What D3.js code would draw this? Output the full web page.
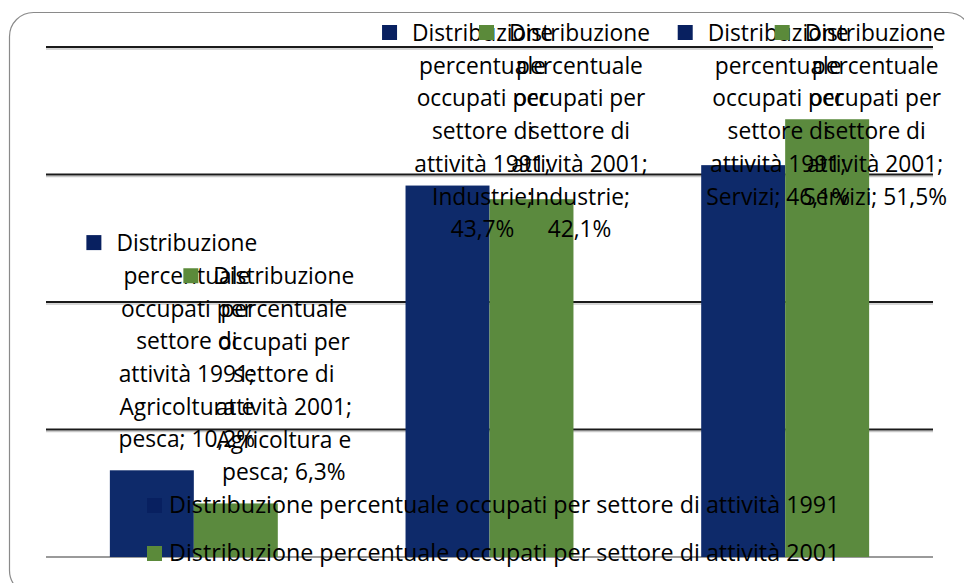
<!DOCTYPE html>
<html>
<head>
<meta charset="utf-8">
<script src="https://cdn.jsdelivr.net/npm/d3@7/dist/d3.min.js"></script>
<style>
  body { margin: 0; background: #fff; }
  svg { display: block; font-family: "Open Sans", "Noto Sans", sans-serif; }
</style>
</head>
<body>
<div id="chart"></div>
<script>
// data
var categories = ["Agricoltura e pesca", "Industrie", "Servizi"];
var seriesNames = ["Distribuzione percentuale occupati per settore di attività 1991",
                   "Distribuzione percentuale occupati per settore di attività 2001"];
var values1991 = [10.2, 43.7, 46.1];
var values2001 = [6.3, 42.1, 51.5];
var yTicks = [0, 15, 30, 45, 60];

var colors = ["#0e2a6a", "#5b8a3e"];
var keyColors = ["#082060", "#5b8a3a"];
var width = 964, height = 583;

var svg = d3.select("#chart").append("svg").attr("width", width).attr("height", height);

// frame
svg.append("rect").attr("x", 9.5).attr("y", 12.5).attr("width", 962).attr("height", 582)
    .attr("rx", 24).attr("fill", "#fff").attr("stroke", "#8a8a8a").attr("stroke-width", 1.2);

// fit font sizes so that the text widths look like the original
function fitSize(str, target) {
  var probe = svg.append("text").attr("font-size", 100).text(str);
  var s = 100 * target / probe.node().getComputedTextLength();
  probe.remove();
  return s;
}
var fs = fitSize("Distribuzione", 141);
var legendFs = fitSize(seriesNames[0], 671);

var plot = { left: 46, right: 933, top: 47, bottom: 557 };
var x0 = d3.scaleBand().domain(categories).range([plot.left, plot.right]).paddingInner(0.432).paddingOuter(0.216);
var x1 = d3.scaleBand().domain([0, 1]).range([0, x0.bandwidth()]);
var y = d3.scaleLinear().domain([0, 60]).range([plot.bottom, plot.top]);

// gridlines (with the faint shadow under them)
var grid = svg.append("g");
grid.selectAll(".shadow").data(yTicks.filter(d => d > 0)).join("line")
    .attr("x1", plot.left).attr("x2", plot.right).attr("y1", d => y(d) + 2).attr("y2", d => y(d) + 2)
    .attr("stroke", "#c8c8c8").attr("stroke-width", 1.5);
grid.selectAll(".g").data(yTicks).join("line")
    .attr("x1", plot.left).attr("x2", plot.right).attr("y1", d => y(d)).attr("y2", d => y(d))
    .attr("stroke", d => d == 0 ? "#9a9a9a" : "#1a1a1a").attr("stroke-width", 2.2);

var rows = [];
categories.forEach((c, i) => {
  rows.push({ s: 0, cat: c, v: values1991[i] });
  rows.push({ s: 1, cat: c, v: values2001[i] });
});

svg.append("g").selectAll("rect").data(rows).join("rect")
    .attr("x", d => x0(d.cat) + x1(d.s)).attr("width", x1.bandwidth())
    .attr("y", d => y(d.v)).attr("height", d => y(0) - y(d.v))
    .attr("fill", d => colors[d.s]);

// data labels with legend key
var lineH = 32.7, labelDx = [35, 48];
var fmt = v => String(v).replace(".", ",") + "%";
var labels = svg.append("g").attr("font-size", fs).attr("fill", "#000");

function wrap(str, maxW) {
  var words = str.split(" "), lines = [], cur = "";
  var t = labels.append("text");
  words.forEach(w => {
    var test = cur ? cur + " " + w : w;
    t.text(test);
    if (cur && t.node().getComputedTextLength() > maxW) { lines.push(cur); cur = w; }
    else cur = test;
  });
  lines.push(cur);
  t.remove();
  return lines;
}

rows.forEach(d => {
  var lines = wrap(seriesNames[d.s] + "; " + d.cat + "; " + fmt(d.v), 160);
  var cx = x0(d.cat) + x1(d.s) + x1.bandwidth() / 2 + labelDx[d.s];
  var last = y(d.v) - 31;
  var first = last - (lines.length - 1) * lineH;
  if (first < 33) first = 33;
  var g = labels.append("g");
  lines.forEach((l, k) => {
    var t = g.append("text").attr("x", cx).attr("y", first + k * lineH + 8)
        .attr("text-anchor", "middle").text(l);
    if (k == 0) {
      var w = t.node().getComputedTextLength();
      g.append("rect").attr("x", cx - w / 2 - 30).attr("y", first + k * lineH - 8)
          .attr("width", 15).attr("height", 15).attr("fill", keyColors[d.s]);
    }
  });
});

// legend
var legend = svg.append("g").attr("font-size", legendFs);
var ly = [513, 561];
seriesNames.forEach((n, i) => {
  legend.append("rect").attr("x", 147).attr("y", ly[i] - 15).attr("width", 15).attr("height", 15).attr("fill", keyColors[i]);
  legend.append("text").attr("x", 169).attr("y", ly[i]).text(n);
});
</script>
</body>
</html>
